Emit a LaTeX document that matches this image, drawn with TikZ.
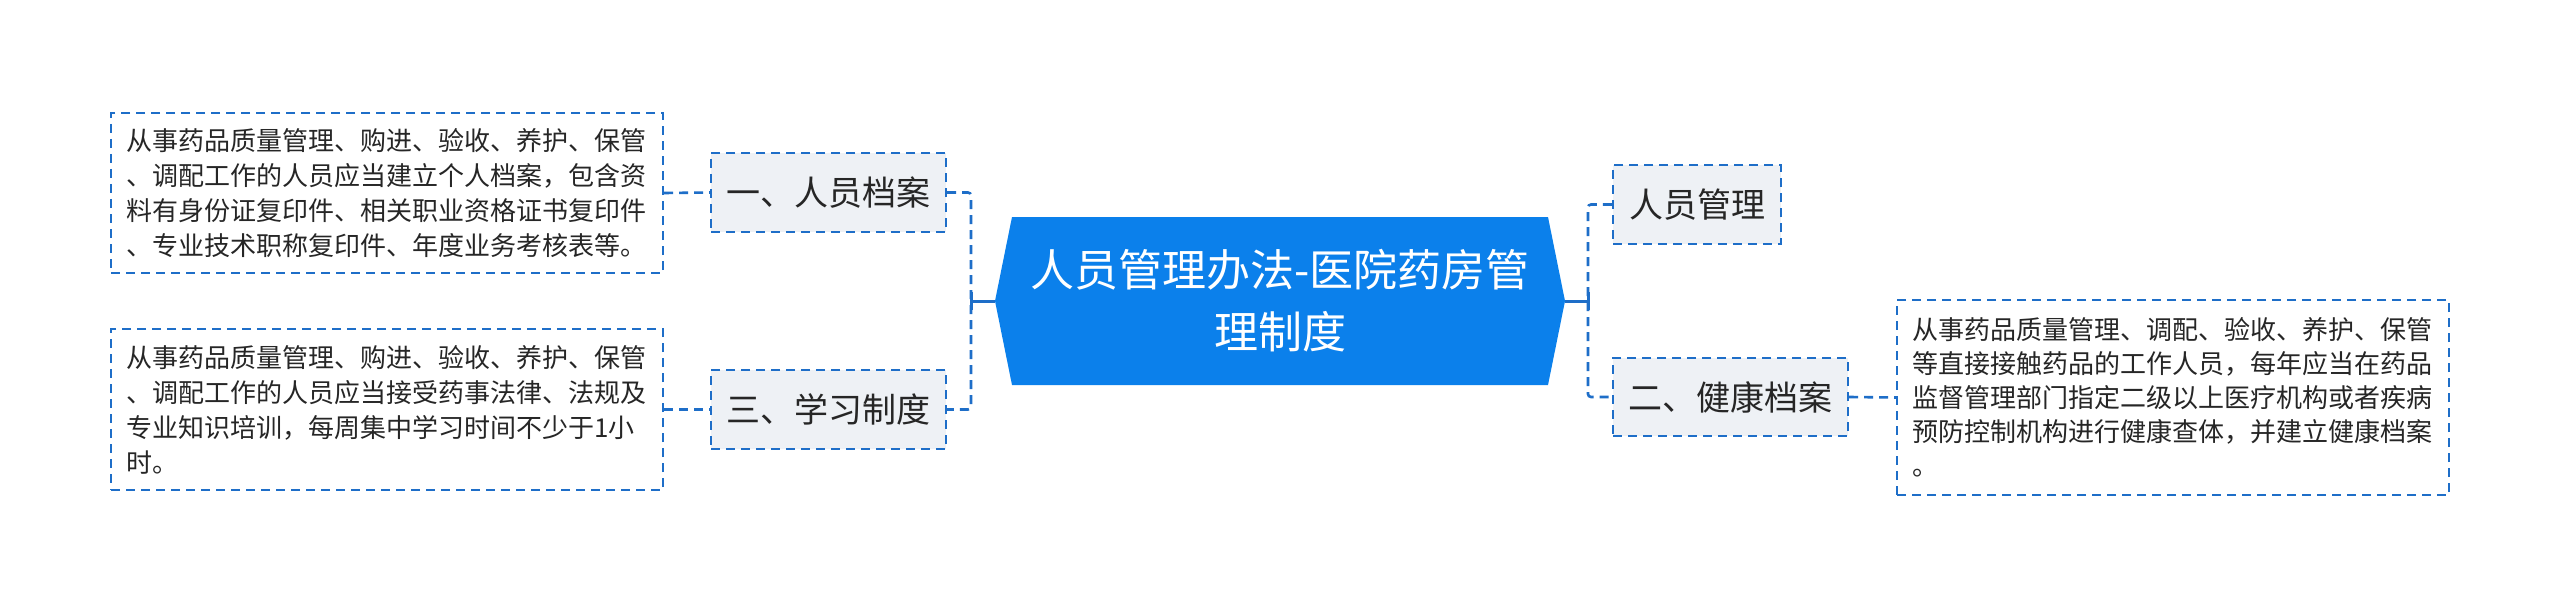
\documentclass[tikz,border=0pt]{standalone}
\usepackage{fontspec}
\setmainfont{Noto Sans CJK SC}
\definecolor{lineblue}{HTML}{1E6EC8}
\definecolor{rootblue}{HTML}{0B80EB}
\definecolor{topicfill}{HTML}{EEF1F5}
\definecolor{txt}{HTML}{262626}
\begin{document}
\begin{tikzpicture}[x=1pt,y=-1pt,
  dsh/.style={dash pattern=on 9pt off 6pt},
  desc/.style={draw=lineblue, line width=2.4pt, dsh, fill=white, text width=522pt, align=left,
    inner xsep=15pt, inner ysep=0pt, font=\fontsize{26}{35}\selectfont, text=txt},
  topic/.style={draw=lineblue, line width=2.4pt, dsh, fill=topicfill, inner sep=0pt,
    minimum height=79pt, font=\fontsize{34}{40}\selectfont, text=txt},
  conn/.style={draw=lineblue, line width=2.6pt, dsh, rounded corners=3pt},
  solidc/.style={draw=lineblue, line width=3pt}]
\useasboundingbox (0,0) rectangle (2560,607);
\fill[white] (0,0) rectangle (2560,607);

% root hexagon
\fill[rootblue] (995,301) -- (1012,217) -- (1548,217) -- (1565,301) -- (1548,385) -- (1012,385) -- cycle;
\node[align=center, text=white, font=\fontsize{44}{62}\selectfont, inner sep=0pt] (root) at (1280,301)
  {人员管理办法-医院药房管\\理制度};
\coordinate (rootL) at (995,301);
\coordinate (rootR) at (1565,301);
\coordinate (bl) at (971,301);
\coordinate (br) at (1588,301);

% topics
\node[topic, minimum width=235pt] (t1) at (828.5,192.5) {一、人员档案};
\node[topic, minimum width=235pt] (t3) at (828.5,409.5) {三、学习制度};
\node[topic, minimum width=168pt] (t2) at (1697,204.5) {人员管理};
\node[topic, minimum width=235pt, minimum height=78pt] (t4) at (1730.5,397) {二、健康档案};

% descriptions
\node[desc, minimum height=160pt] (d1) at (387,193)
  {从事药品质量管理、购进、验收、养护、保管\\、调配工作的人员应当建立个人档案，包含资\\料有身份证复印件、相关职业资格证书复印件\\、专业技术职称复印件、年度业务考核表等。};
\node[desc, minimum height=161pt] (d3) at (387,409.5)
  {从事药品质量管理、购进、验收、养护、保管\\、调配工作的人员应当接受药事法律、法规及\\专业知识培训，每周集中学习时间不少于1小\\时。};
\node[desc, minimum height=195pt, font=\fontsize{26}{34}\selectfont] (d4) at (2173,397.5)
  {从事药品质量管理、调配、验收、养护、保管\\等直接接触药品的工作人员，每年应当在药品\\监督管理部门指定二级以上医疗机构或者疾病\\预防控制机构进行健康查体，并建立健康档案\\。};

% connectors
\draw[conn] (t1.east) -| (bl) |- (t3.east);
\draw[solidc] (bl) -- (rootL);
\draw[solidc] ([yshift=-9pt]bl) -- ([yshift=9pt]bl);
\draw[conn] (t2.west) -| (br) |- (t4.west);
\draw[solidc] (rootR) -- (br);
\draw[solidc] ([yshift=-9pt]br) -- ([yshift=9pt]br);
\draw[conn] (d1.east) -- (t1.west);
\draw[conn] (d3.east) -- (t3.west);
\draw[conn] (t4.east) -- (d4.west);
\end{tikzpicture}
\end{document}
